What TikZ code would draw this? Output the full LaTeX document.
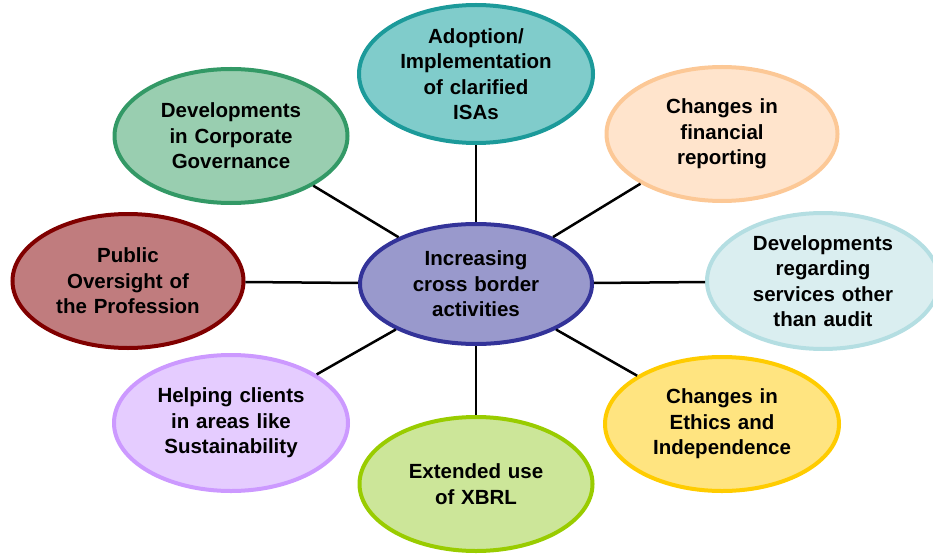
\documentclass[tikz,border=0pt]{standalone}
\usepackage{fontspec}
\setmainfont{Liberation Sans}
\usetikzlibrary{shapes.geometric}
\definecolor{tealB}{RGB}{28,154,154}\definecolor{tealF}{RGB}{128,204,203}
\definecolor{blueB}{RGB}{51,51,153}\definecolor{blueF}{RGB}{153,153,204}
\definecolor{redB}{RGB}{128,0,0}\definecolor{redF}{RGB}{192,124,126}
\definecolor{greenB}{RGB}{51,153,102}\definecolor{greenF}{RGB}{153,206,176}
\definecolor{peachB}{RGB}{252,200,150}\definecolor{peachF}{RGB}{255,228,204}
\definecolor{lblueB}{RGB}{180,222,226}\definecolor{lblueF}{RGB}{218,238,240}
\definecolor{purpB}{RGB}{204,153,255}\definecolor{purpF}{RGB}{229,204,255}
\definecolor{limeB}{RGB}{153,204,0}\definecolor{limeF}{RGB}{204,230,153}
\definecolor{yelB}{RGB}{255,204,0}\definecolor{yelF}{RGB}{255,228,128}
\tikzset{
  bubble/.style={ellipse, line width=4pt, inner sep=0pt, text width=160pt, align=center,
    font=\fontsize{20.5}{25.5}\selectfont\bfseries},
  link/.style={line width=2.5pt, black}
}
\begin{document}
\begin{tikzpicture}[x=1pt,y=-1pt]
\useasboundingbox (0,0) rectangle (933,556);
\node[bubble, draw=blueB, fill=blueF, minimum width=232pt, minimum height=120pt] (c) at (476,284) {Increasing\\ cross border\\ activities};
\node[bubble, draw=tealB, fill=tealF, minimum width=234pt, minimum height=138pt] (t) at (476,74) {Adoption/\\ Implementation\\ of clarified\\ ISAs};
\node[bubble, draw=greenB, fill=greenF, minimum width=233pt, minimum height=134pt] (tl) at (231,136) {Developments\\ in Corporate\\ Governance};
\node[bubble, draw=peachB, fill=peachF, minimum width=231pt, minimum height=134pt] (tr) at (722,134) {Changes in\\ financial\\ reporting};
\node[bubble, draw=redB, fill=redF, minimum width=231pt, minimum height=134pt] (l) at (128,281) {Public\\ Oversight of\\ the Profession};
\node[bubble, draw=lblueB, fill=lblueF, minimum width=232pt, minimum height=136pt] (r) at (823,281) {Developments\\ regarding\\ services other\\ than audit};
\node[bubble, draw=purpB, fill=purpF, minimum width=234pt, minimum height=136pt] (bl) at (231,423) {Helping clients\\ in areas like\\ Sustainability};
\node[bubble, draw=limeB, fill=limeF, minimum width=233pt, minimum height=134pt] (b) at (476,484) {Extended use\\ of XBRL};
\node[bubble, draw=yelB, fill=yelF, minimum width=234pt, minimum height=134pt] (br) at (722,424) {Changes in\\ Ethics and\\ Independence};
\foreach \n in {t,tl,tr,l,r,bl,b,br} \draw[link] (c) -- (\n);
\end{tikzpicture}
\end{document}
